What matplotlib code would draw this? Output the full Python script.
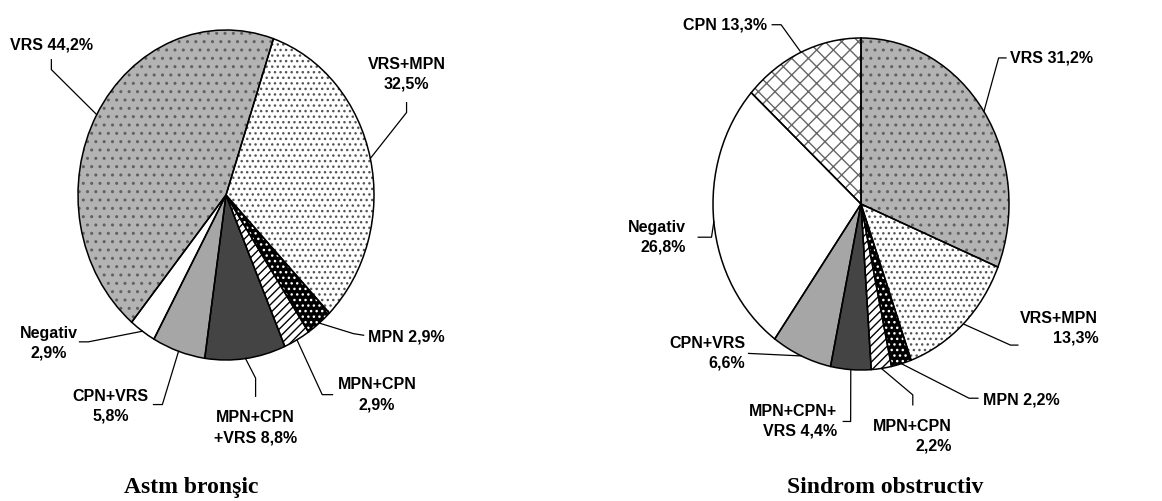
import numpy as np
import matplotlib.pyplot as plt

plt.rcParams['font.family'] = ['Liberation Sans', 'DejaVu Sans']
plt.rcParams['hatch.linewidth'] = 1.0

# data
astm_groups = ["VRS+MPN", "MPN", "MPN+CPN", "MPN+CPN+VRS", "CPN+VRS", "Negativ", "VRS"]
astm_values = [32.5, 2.9, 2.9, 8.8, 5.8, 2.9, 44.2]
astm_labels = ["VRS+MPN\n32,5%", "MPN 2,9%", "MPN+CPN\n2,9%", "MPN+CPN\n+VRS 8,8%",
               "CPN+VRS\n5,8%", "Negativ\n2,9%", "VRS 44,2%"]

sindrom_groups = ["VRS", "VRS+MPN", "MPN", "MPN+CPN", "MPN+CPN+VRS", "CPN+VRS", "Negativ", "CPN"]
sindrom_values = [31.2, 13.3, 2.2, 2.2, 4.4, 6.6, 26.8, 13.3]
sindrom_labels = ["VRS 31,2%", "VRS+MPN\n13,3%", "MPN 2,2%", "MPN+CPN\n2,2%",
                  "MPN+CPN+\nVRS 4,4%", "CPN+VRS\n6,6%", "Negativ\n26,8%", "CPN 13,3%"]

# fill, hatch, hatch colour
styles = {
    "VRS": ("#b3b3b3", "..", "#606060"),
    "VRS+MPN": ("white", "...", "#555555"),
    "MPN": ("black", "...", "white"),
    "MPN+CPN": ("white", "////", "black"),
    "MPN+CPN+VRS": ("#444444", None, "#444444"),
    "CPN+VRS": ("#a6a6a6", None, "#a6a6a6"),
    "Negativ": ("white", None, "white"),
    "CPN": ("white", "xx", "#666666"),
}

# label layout: text centre, then leader points from text towards the pie
astm_layout = [
    ((1.22, 0.73), [(1.22, 0.56), (1.22, 0.50)]),
    ((1.22, -0.86), [(0.93, -0.85), (0.86, -0.84)]),
    ((1.02, -1.21), [(0.72, -1.21), (0.65, -1.21)]),
    ((0.20, -1.41), [(0.20, -1.22), (0.20, -1.11)]),
    ((-0.78, -1.28), [(-0.49, -1.27), (-0.43, -1.27)]),
    ((-1.20, -0.90), [(-0.99, -0.89), (-0.93, -0.89)]),
    ((-1.18, 0.91), [(-1.18, 0.82), (-1.18, 0.76)]),
]
sindrom_layout = [
    ((1.29, 0.88), [(0.98, 0.88), (0.93, 0.88)]),
    ((1.34, -0.75), [(1.06, -0.85), (1.01, -0.85)]),
    ((1.08, -1.18), [(0.79, -1.17), (0.73, -1.17)]),
    ((0.35, -1.40), [(0.35, -1.21), (0.35, -1.15)]),
    ((-0.46, -1.31), [(-0.12, -1.31), (-0.07, -1.31)]),
    ((-1.04, -0.90), [(-0.76, -0.90)]),
    ((-1.38, -0.20), [(-1.10, -0.20), (-1.01, -0.20)]),
    ((-0.92, 1.08), [(-0.60, 1.08), (-0.54, 1.08)]),
]


def draw_pie(ax, groups, values, labels, layout, startangle, xlim, ylim, align):
    fills = [styles[g][0] for g in groups]
    wedges, _ = ax.pie(values, colors=fills, startangle=startangle, counterclock=False,
                       wedgeprops=dict(linewidth=0))
    for w, g in zip(wedges, groups):
        fc, hatch, hc = styles[g]
        w.set_edgecolor(hc)
        if hatch:
            w.set_hatch(hatch)
    # black outlines on top of the hatched wedges
    ax.pie(values, colors=['none'] * len(values), startangle=startangle,
           counterclock=False,
           wedgeprops=dict(edgecolor='black', linewidth=1.1, fill=False))
    ax.set_aspect('auto')
    ax.set_xlim(xlim)
    ax.set_ylim(ylim)
    ax.axis('off')

    for w, text, (pos, pts) in zip(wedges, labels, layout):
        mid = np.deg2rad((w.theta1 + w.theta2) / 2)
        anchor = (np.cos(mid), np.sin(mid))
        path = pts + [anchor]
        ax.plot([p[0] for p in path], [p[1] for p in path], color='black', lw=0.9,
                clip_on=False)
        ax.text(pos[0], pos[1], text, ha='center', va='center', multialignment=align,
                fontsize=11.5, fontweight='bold', linespacing=1.4)


fig = plt.figure(figsize=(11.62, 5.01), dpi=100)
ax1 = fig.add_axes([0, 0, 0.5, 1])
ax2 = fig.add_axes([0.5, 0, 0.5, 1])

draw_pie(ax1, astm_groups, astm_values, astm_labels, astm_layout, 71.3,
         (-226 / 148, 355 / 148), (-306 / 165, 195 / 165), 'center')
draw_pie(ax2, sindrom_groups, sindrom_values, sindrom_labels, sindrom_layout, 90,
         (-280 / 148, 301 / 148), (-297 / 166, 204 / 166), 'right')

fig.text(191 / 1162, 8 / 501, "Astm bronşic", ha='center', va='baseline',
         family='Liberation Serif', fontweight='bold', fontsize=17)
fig.text(885 / 1162, 8 / 501, "Sindrom obstructiv", ha='center', va='baseline',
         family='Liberation Serif', fontweight='bold', fontsize=17)

fig.savefig('out.png', dpi=100, facecolor='white')
